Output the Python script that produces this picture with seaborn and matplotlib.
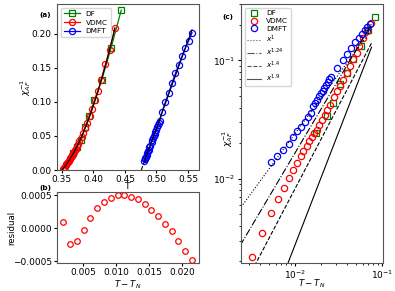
import numpy as np
import matplotlib
matplotlib.use("Agg")
import matplotlib.pyplot as plt
import seaborn as sns

# ---------------- data ----------------
# panel (a): inverse AF susceptibility vs T
T_df = [0.3684, 0.3743, 0.3806, 0.3870, 0.3933, 0.4018, 0.4135, 0.4283, 0.4442]
chi_df = [0.0245, 0.0342, 0.0436, 0.0628, 0.0788, 0.1030, 0.1330, 0.1800, 0.2350]

T_vdmc = [0.3527, 0.3538, 0.3551, 0.3564, 0.3575, 0.3588, 0.3598, 0.3611, 0.3623, 0.3634,
          0.3646, 0.3657, 0.3669, 0.3680, 0.3695, 0.3709, 0.3723, 0.3744, 0.3760, 0.3780,
          0.3815, 0.3842, 0.3868, 0.3903, 0.3942, 0.3982, 0.4028, 0.4079, 0.4120, 0.4192,
          0.4257, 0.4342]
chi_vdmc = [0.0022, 0.0035, 0.0051, 0.0067, 0.0084, 0.0101, 0.0118, 0.0136, 0.0155, 0.0170,
            0.0190, 0.0207, 0.0226, 0.0244, 0.0260, 0.0287, 0.0312, 0.0348, 0.0384, 0.0424,
            0.0489, 0.0550, 0.0614, 0.0690, 0.0787, 0.0895, 0.1030, 0.1160, 0.1320, 0.1555,
            0.1770, 0.2080]

T_dmft = [0.4809, 0.4816, 0.4825, 0.4834, 0.4845, 0.4856, 0.4864, 0.4876, 0.4889, 0.4901,
          0.4921, 0.4933, 0.4945, 0.4957, 0.4969, 0.4982, 0.4996, 0.5010, 0.5025, 0.5039,
          0.5052, 0.5090, 0.5142, 0.5195, 0.5248, 0.5300, 0.5352, 0.5405, 0.5458, 0.5510,
          0.5562]
chi_dmft = [0.0138, 0.0155, 0.0176, 0.0198, 0.0226, 0.0252, 0.0272, 0.0300, 0.0331, 0.0360,
            0.0409, 0.0437, 0.0466, 0.0496, 0.0526, 0.0556, 0.0590, 0.0625, 0.0660, 0.0695,
            0.0727, 0.0857, 0.1004, 0.1137, 0.1284, 0.1422, 0.1544, 0.1676, 0.1800, 0.1900,
            0.2019]

# panel (b): residual of the fit
res_x = [0.0020, 0.0030, 0.0041, 0.0051, 0.0061, 0.0071, 0.0082, 0.0092, 0.0102, 0.0112,
         0.0122, 0.0133, 0.0143, 0.0153, 0.0163, 0.0174, 0.0184, 0.0194, 0.0204, 0.0215]
res_y = [0.000086, -0.00024, -0.00020, -0.000025, 0.00015, 0.00030, 0.00040, 0.00046,
         0.00050, 0.00050, 0.00048, 0.00044, 0.00037, 0.00028, 0.00018, 0.00007,
         -0.00005, -0.00019, -0.00034, -0.00048]

# panel (c): log-log vs T - T_N
dT_df = [0.0174, 0.0235, 0.0271, 0.0329, 0.0399, 0.0467, 0.0569, 0.0697, 0.0832]
dT_vdmc = [0.0032, 0.0042, 0.0053, 0.0064, 0.0074, 0.0085, 0.0094, 0.0105, 0.0116, 0.0125,
           0.0136, 0.0145, 0.0156, 0.0165, 0.0178, 0.0190, 0.0203, 0.0221, 0.0235, 0.0252,
           0.0283, 0.0306, 0.0329, 0.0359, 0.0393, 0.0428, 0.0468, 0.0512, 0.0548, 0.0610,
           0.0667, 0.0741]
dT_dmft = [0.0053, 0.0063, 0.0073, 0.0085, 0.0096, 0.0106, 0.0117, 0.0130, 0.0142, 0.0153,
           0.0163, 0.0172, 0.0181, 0.0190, 0.0199, 0.0208, 0.0218, 0.0228, 0.0238, 0.0248,
           0.0257, 0.0306, 0.0353, 0.0400, 0.0447, 0.0494, 0.0541, 0.0588, 0.0635, 0.0682,
           0.0729]

power_exps = [1.0, 1.24, 1.4, 1.9]
power_amps = [2.4, 4.97, 5.17, 17.3]
power_labels = ['$x^{1}$', '$x^{1.24}$', '$x^{1.4}$', '$x^{1.9}$']
power_styles = [':', '-.', '--', '-']

# ---------------- figure ----------------
plt.rcParams['font.family'] = ['DejaVu Sans']
plt.rcParams['axes.edgecolor'] = '#555555'
TICK_FS = 6.5
LAB_FS = 6.6
XLAB_FS = 6.2
LEG_FS = 5.3

fig = plt.figure(figsize=(3.95, 2.91), dpi=100)
W, H = 395.0, 291.0
def rect(l, t, r, b):
    return [l / W, 1 - b / H, (r - l) / W, (b - t) / H]

axA = fig.add_axes(rect(57, 4, 198.5, 170))
axB = fig.add_axes(rect(57, 192, 198.5, 263))
axC = fig.add_axes(rect(241, 4, 383, 263))

mk = dict(markerfacecolor='none', markeredgewidth=0.9, estimator=None, sort=False)

# ---- (a)
sns.lineplot(x=T_df, y=chi_df, ax=axA, color='g', marker='s', markersize=4.0,
             markeredgecolor='g', linewidth=0.9, label='DF', **mk)
sns.lineplot(x=T_vdmc, y=chi_vdmc, ax=axA, color='r', marker='o', markersize=4.4,
             markeredgecolor='r', linewidth=0.9, label='VDMC', **mk)
sns.lineplot(x=T_dmft, y=chi_dmft, ax=axA, color='b', marker='o', markersize=4.4,
             markeredgecolor='b', linewidth=0.9, label='DMFT', **mk)

# fits (black): quadratic for VDMC, linear for DMFT; dashed extrapolation to zero
for xs, ys, deg in [(T_vdmc, chi_vdmc, 2), (T_dmft, chi_dmft, 1)]:
    p = np.polyfit(xs, ys, deg)
    roots = np.roots(p)
    roots = roots[np.isreal(roots)].real
    r0 = roots[np.argmin(np.abs(roots - xs[0]))]
    tt = np.linspace(xs[0], xs[-1], 100)
    sns.lineplot(x=tt, y=np.polyval(p, tt), ax=axA, color='k', linewidth=0.8,
                 estimator=None, sort=False, zorder=5)
    te = np.linspace(r0, xs[0], 20)
    sns.lineplot(x=te, y=np.polyval(p, te), ax=axA, color='k', linewidth=0.8,
                 linestyle='--', estimator=None, sort=False, zorder=5)

axA.set_xlim(0.3425, 0.5665)
axA.set_ylim(0.0, 0.244)
axA.set_xticks([0.35, 0.40, 0.45, 0.50, 0.55])
axA.set_yticks([0.00, 0.05, 0.10, 0.15, 0.20])
axA.set_xlabel('T', fontsize=LAB_FS)
axA.xaxis.set_label_coords(0.5, -0.07)
axA.set_ylabel(r'$\chi_{AF}^{-1}$', fontsize=LAB_FS)
axA.yaxis.set_label_coords(-0.17, 0.5)
axA.legend(loc='upper left', fontsize=LEG_FS, handlelength=2.2, labelspacing=0.35)
axA.text(-0.085, 0.934, '(a)', transform=axA.transAxes, fontsize=5.2,
         fontweight='bold', ha='center', va='center')

# ---- (b)
sns.lineplot(x=res_x, y=res_y, ax=axB, color='r', marker='o', markersize=4.0,
             markeredgecolor='r', linestyle='none', **mk)
axB.set_yticks([-0.0005, 0.0, 0.0005])
axB.set_xticks([0.005, 0.010, 0.015, 0.020])
axB.set_xlabel(r'$T-T_N$', fontsize=XLAB_FS, labelpad=1)
axB.set_ylabel('residual', fontsize=6.2)
axB.yaxis.set_label_coords(-0.29, 0.5)
axB.text(-0.085, 1.06, '(b)', transform=axB.transAxes, fontsize=5.2,
         fontweight='bold', ha='center', va='center')

# ---- (c)
axC.set_xscale('log')
axC.set_yscale('log')
sns.lineplot(x=dT_df, y=chi_df, ax=axC, color='g', marker='s', markersize=4.0,
             markeredgecolor='g', linestyle='none', label='DF', **mk)
sns.lineplot(x=dT_vdmc, y=chi_vdmc, ax=axC, color='r', marker='o', markersize=4.5,
             markeredgecolor='r', linestyle='none', label='VDMC', **mk)
sns.lineplot(x=dT_dmft, y=chi_dmft, ax=axC, color='b', marker='o', markersize=4.5,
             markeredgecolor='b', linestyle='none', label='DMFT', **mk)
xx = np.logspace(np.log10(0.002), np.log10(0.076), 60)
for a, g, lab, ls in zip(power_amps, power_exps, power_labels, power_styles):
    sns.lineplot(x=xx, y=a * xx ** g, ax=axC, color='k', linewidth=0.8, linestyle=ls,
                 label=lab, estimator=None, sort=False)
axC.set_xlim(0.0024, 0.103)
axC.set_ylim(0.00194, 0.30)
axC.set_xlabel(r'$T-T_N$', fontsize=XLAB_FS)
axC.xaxis.set_label_coords(0.5, -0.056)
axC.set_ylabel(r'$\chi_{AF}^{-1}$', fontsize=LAB_FS)
axC.yaxis.set_label_coords(-0.045, 0.48)
leg = axC.legend(loc='upper left', fontsize=LEG_FS, handlelength=1.8, labelspacing=0.22,
                 borderpad=0.35)
for h in leg.legend_handles[3:]:
    h.set_color('#555555')
axC.text(-0.092, 0.95, '(c)', transform=axC.transAxes, fontsize=5.2,
         fontweight='bold', ha='center', va='center')

for ax in (axA, axB, axC):
    ax.tick_params(which='major', labelsize=TICK_FS, length=2.2, pad=1.6)
    ax.tick_params(which='minor', length=1.3)

fig.savefig('out.png', dpi=100)
